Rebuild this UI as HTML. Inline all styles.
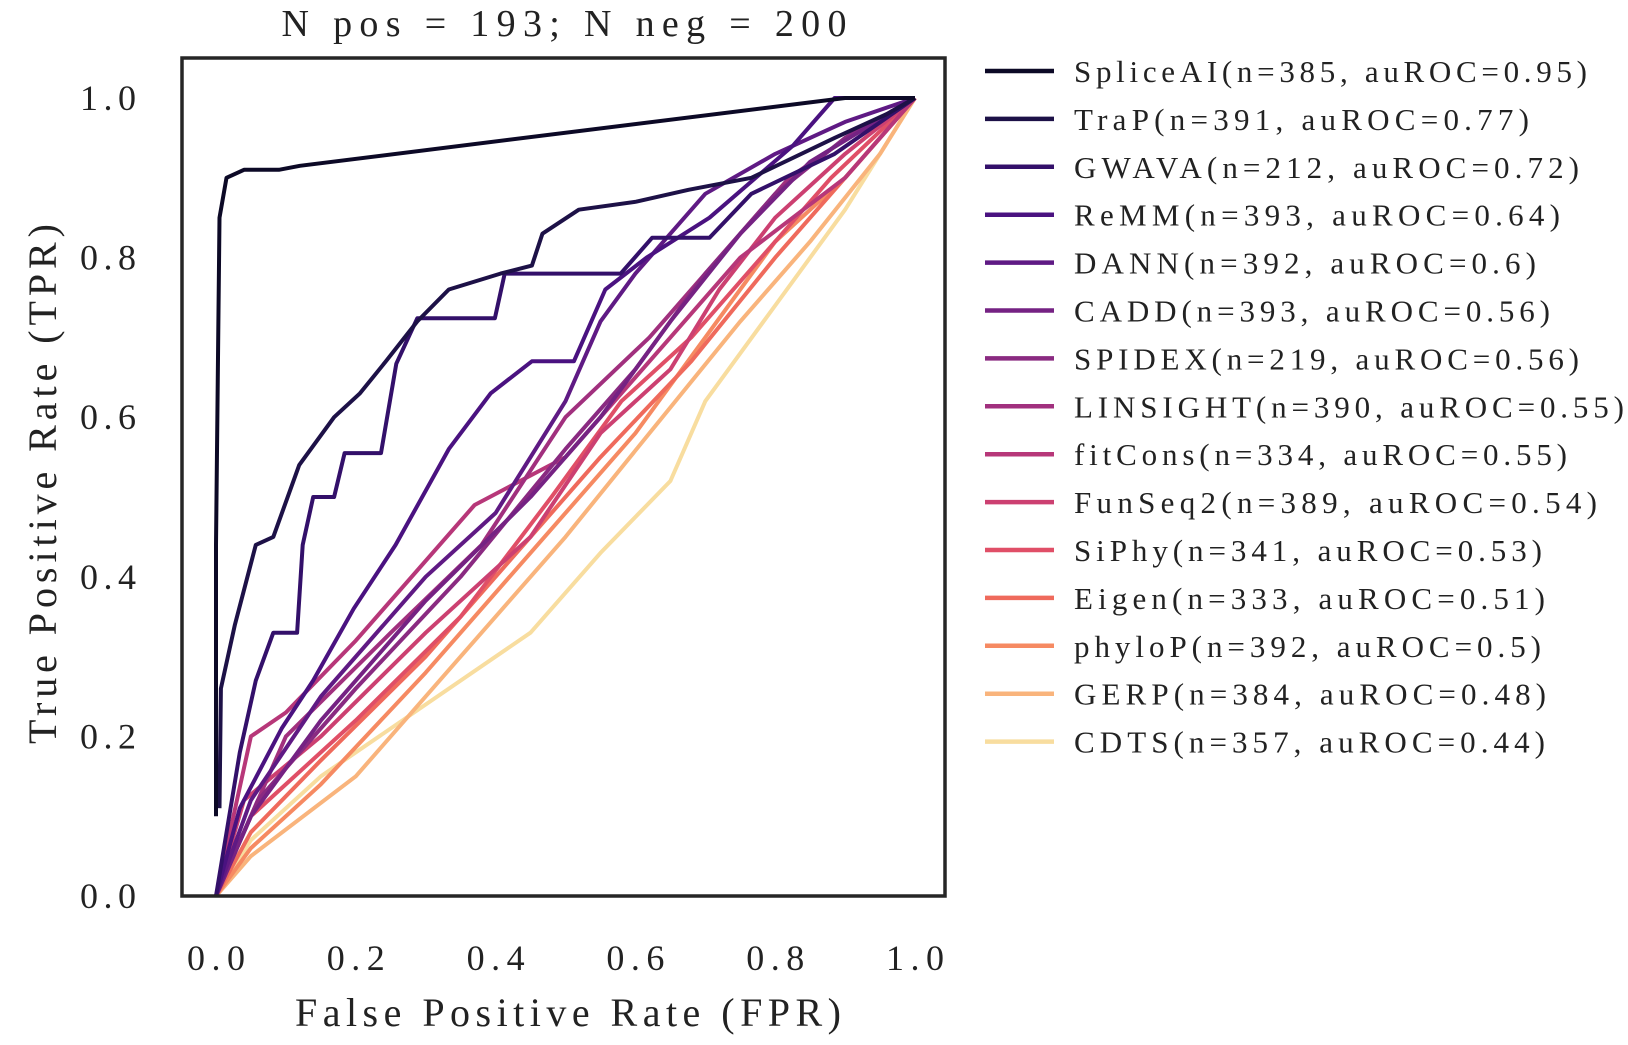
<!DOCTYPE html>
<html><head><meta charset="utf-8"><style>
html,body{margin:0;padding:0;background:#fff;}
svg, svg text{font-family:"Liberation Serif","Noto Serif CJK SC","DejaVu Serif",serif;}
</style></head><body>
<svg id="chart" width="1628" height="1040" viewBox="0 0 1628 1040" xmlns="http://www.w3.org/2000/svg">
<rect width="1628" height="1040" fill="#fff"/>
<text x="564" y="36" font-size="38" text-anchor="middle" textLength="565" lengthAdjust="spacing" fill="#222">N pos = 193; N neg = 200</text>
<g id="curves"></g>
<rect x="182" y="58" width="763" height="838" fill="none" stroke="#262626" stroke-width="3.5"/>
<g id="ticks"></g>
<text transform="translate(56,484) rotate(-90)" font-size="40" text-anchor="middle" textLength="520" lengthAdjust="spacing" fill="#222">True Positive Rate (TPR)</text>
<text x="568" y="1026" font-size="40" text-anchor="middle" textLength="546" lengthAdjust="spacing" fill="#222">False Positive Rate (FPR)</text>
<g id="legend"></g>
</svg>
<script>
const names = ["SpliceAI","TraP","GWAVA","ReMM","DANN","CADD","SPIDEX","LINSIGHT","fitCons","FunSeq2","SiPhy","Eigen","phyloP","GERP","CDTS"];
const counts = [385,391,212,393,392,393,219,390,334,389,341,333,392,384,357];
const aurocs = ["0.95","0.77","0.72","0.64","0.6","0.56","0.56","0.55","0.55","0.54","0.53","0.51","0.5","0.48","0.44"];
const colors = ["#0c0926","#1d1147","#33106a","#4a1280","#5f1a84","#752283","#8a2a81","#a1307e","#b73779","#cc4071","#e04f67","#ef6a5c","#f68a62","#f9b47c","#f8dd9f"];
const xTicks = [0,0.2,0.4,0.6,0.8,1.0];
const yTicks = [0,0.2,0.4,0.6,0.8,1.0];
const fprs = [
 [0,0,0.005,0.015,0.04,0.09,0.12,0.9,1],
 [0.005,0.007,0.027,0.057,0.082,0.119,0.169,0.206,0.243,0.288,0.333,0.407,0.452,0.467,0.519,0.601,0.676,0.766,0.885,0.96,1],
 [0,0.034,0.057,0.082,0.116,0.124,0.139,0.169,0.184,0.236,0.258,0.288,0.399,0.413,0.579,0.624,0.706,0.766,0.885,1],
 [0,0.034,0.094,0.139,0.197,0.257,0.333,0.393,0.452,0.512,0.557,0.616,0.706,0.825,0.885,1],
 [0,0.05,0.15,0.3,0.4,0.5,0.55,0.6,0.7,0.8,0.9,1],
 [0,0.05,0.15,0.3,0.45,0.55,0.65,0.75,0.85,1],
 [0,0.06,0.2,0.35,0.5,0.6,0.7,0.8,0.9,1],
 [0,0.05,0.1,0.25,0.38,0.5,0.62,0.72,0.82,0.92,1],
 [0,0.05,0.1,0.2,0.37,0.5,0.55,0.65,0.75,0.9,1],
 [0,0.04,0.15,0.3,0.45,0.55,0.65,0.72,0.8,0.9,1],
 [0,0.05,0.2,0.35,0.48,0.58,0.68,0.78,0.88,1],
 [0,0.05,0.15,0.3,0.45,0.55,0.68,0.8,0.9,1],
 [0,0.05,0.15,0.3,0.45,0.6,0.7,0.8,0.9,1],
 [0,0.05,0.2,0.35,0.5,0.62,0.75,0.85,0.95,1],
 [0,0.05,0.15,0.3,0.45,0.55,0.65,0.7,0.8,0.9,0.95,1]
];
const tprs = [
 [0.1,0.44,0.85,0.9,0.91,0.91,0.915,1.0,1.0],
 [0.11,0.26,0.34,0.44,0.45,0.54,0.6,0.63,0.67,0.72,0.76,0.78,0.79,0.83,0.86,0.87,0.885,0.9,0.95,0.98,1],
 [0,0.18,0.27,0.33,0.33,0.44,0.5,0.5,0.555,0.555,0.667,0.724,0.724,0.78,0.78,0.825,0.825,0.88,0.93,1],
 [0,0.11,0.21,0.27,0.36,0.44,0.56,0.63,0.67,0.67,0.76,0.8,0.85,0.94,1,1],
 [0,0.12,0.25,0.4,0.48,0.62,0.72,0.78,0.88,0.93,0.97,1],
 [0,0.1,0.22,0.37,0.5,0.6,0.72,0.83,0.92,1],
 [0,0.12,0.26,0.4,0.56,0.66,0.78,0.88,0.95,1],
 [0,0.1,0.2,0.33,0.44,0.6,0.7,0.8,0.9,0.96,1],
 [0,0.2,0.23,0.32,0.49,0.55,0.6,0.7,0.8,0.9,1],
 [0,0.12,0.2,0.33,0.45,0.58,0.66,0.76,0.85,0.93,1],
 [0,0.1,0.22,0.35,0.5,0.62,0.7,0.8,0.9,1],
 [0,0.08,0.17,0.3,0.45,0.55,0.67,0.8,0.9,1],
 [0,0.06,0.14,0.28,0.43,0.58,0.7,0.82,0.9,1],
 [0,0.05,0.15,0.3,0.45,0.58,0.72,0.82,0.93,1],
 [0,0.07,0.15,0.24,0.33,0.43,0.52,0.62,0.74,0.86,0.93,1]
];
const legendEnds = [1587,1529,1579,1560,1536,1550,1579,1624,1567,1597,1542,1545,1541,1546,1545];

const NS = "http://www.w3.org/2000/svg";
const X0 = 216, XS = 699, Y0 = 896, YS = 798;
const sx = v => X0 + v * XS;
const sy = v => Y0 - v * YS;

const cg = document.getElementById('curves');
for (let i = names.length - 1; i >= 0; i--) {
  const p = document.createElementNS(NS, 'polyline');
  
  
  p.setAttribute('points', fprs[i].map((f, k) => sx(f).toFixed(1) + ',' + sy(tprs[i][k]).toFixed(1)).join(' '));
  p.setAttribute('fill', 'none');
  p.setAttribute('stroke', colors[i]);
  p.setAttribute('stroke-width', '4');
  p.setAttribute('stroke-linejoin', 'round');
  cg.appendChild(p);
}

const tg = document.getElementById('ticks');
xTicks.forEach(t => {
  const el = document.createElementNS(NS, 'text');
  
  
  el.setAttribute('x', sx(t));
  el.setAttribute('y', 970);
  el.setAttribute('font-size', '36');
  el.setAttribute('text-anchor', 'middle');
  el.setAttribute('textLength', '58');
  el.setAttribute('lengthAdjust', 'spacing');
  el.setAttribute('fill', '#222');
  el.textContent = t.toFixed(1);
  tg.appendChild(el);
});
yTicks.forEach(t => {
  const el = document.createElementNS(NS, 'text');
  
  
  el.setAttribute('x', 80);
  el.setAttribute('y', sy(t) + 12);
  el.setAttribute('font-size', '36');
  el.setAttribute('textLength', '56');
  el.setAttribute('lengthAdjust', 'spacing');
  el.setAttribute('fill', '#222');
  el.textContent = t.toFixed(1);
  tg.appendChild(el);
});

const lg = document.getElementById('legend');
names.forEach((n, i) => {
  const y = 71 + i * 47.9;
  const ln = document.createElementNS(NS, 'line');
  
  
  ln.setAttribute('x1', 985); ln.setAttribute('x2', 1054);
  ln.setAttribute('y1', y); ln.setAttribute('y2', y);
  ln.setAttribute('stroke', colors[i]);
  ln.setAttribute('stroke-width', '4.5');
  lg.appendChild(ln);
  const tx = document.createElementNS(NS, 'text');
  
  
  tx.setAttribute('x', 1074);
  tx.setAttribute('y', y + 11);
  tx.setAttribute('font-size', '31');
  tx.setAttribute('textLength', legendEnds[i] - 1074);
  tx.setAttribute('lengthAdjust', 'spacing');
  tx.setAttribute('fill', '#222');
  tx.textContent = n + '(n=' + counts[i] + ', auROC=' + aurocs[i] + ')';
  lg.appendChild(tx);
});
</script>
</body></html>
